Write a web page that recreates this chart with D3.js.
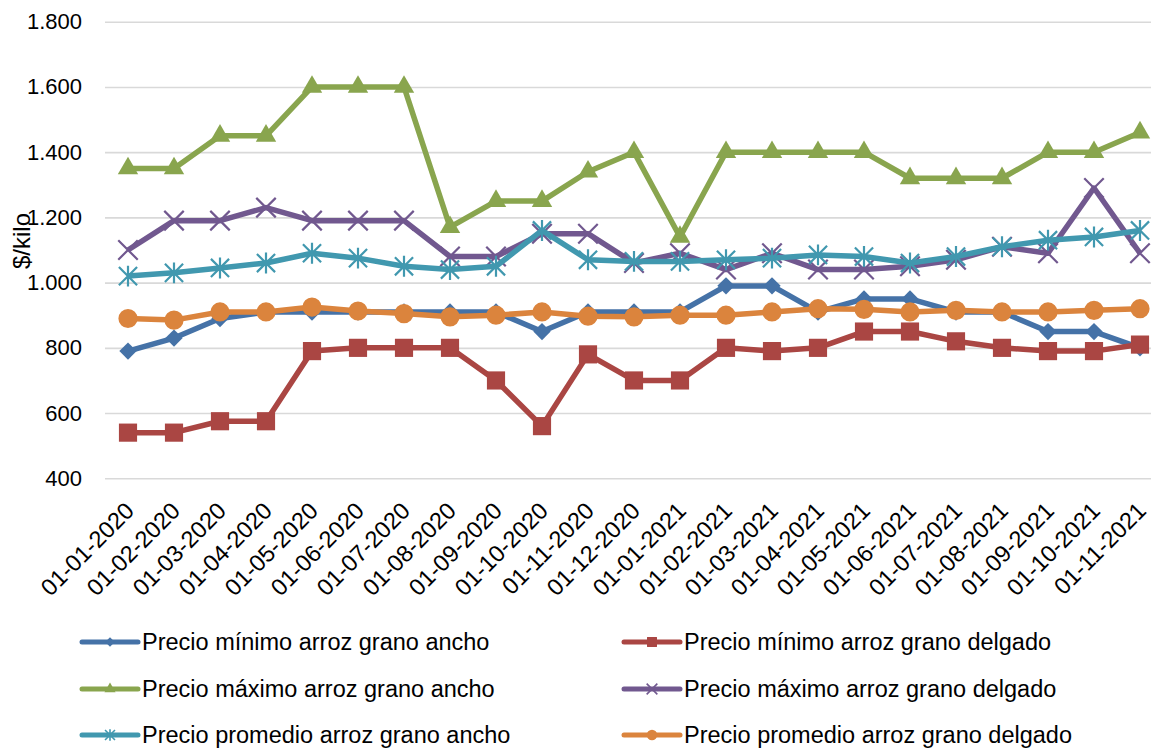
<!DOCTYPE html>
<html>
<head>
<meta charset="utf-8">
<script src="https://cdn.jsdelivr.net/npm/d3@7"></script>
<style>
  html, body { margin: 0; padding: 0; background: #fff; }
  svg { display: block; font-family: Arial, "Liberation Sans", sans-serif; }
</style>
</head>
<body>
<svg id="chart" width="1151" height="748"></svg>
<script>
// Monthly dates (first of each month)
const categories = [
  "01-01-2020", "01-02-2020", "01-03-2020", "01-04-2020", "01-05-2020", "01-06-2020",
  "01-07-2020", "01-08-2020", "01-09-2020", "01-10-2020", "01-11-2020", "01-12-2020",
  "01-01-2021", "01-02-2021", "01-03-2021", "01-04-2021", "01-05-2021", "01-06-2021",
  "01-07-2021", "01-08-2021", "01-09-2021", "01-10-2021", "01-11-2021"
];

// Prices in $/kilo
const minAncho    = [790, 830, 890, 910, 910, 910, 910, 910, 910, 850, 910, 910, 910, 990, 990, 910, 950, 950, 910, 910, 850, 850, 800];
const minDelgado  = [540, 540, 575, 575, 790, 800, 800, 800, 700, 560, 780, 700, 700, 800, 790, 800, 850, 850, 820, 800, 790, 790, 810];
const maxAncho    = [1350, 1350, 1450, 1450, 1600, 1600, 1600, 1170, 1250, 1250, 1340, 1400, 1140, 1400, 1400, 1400, 1400, 1320, 1320, 1320, 1400, 1400, 1460];
const maxDelgado  = [1100, 1190, 1190, 1230, 1190, 1190, 1190, 1080, 1080, 1150, 1150, 1060, 1090, 1040, 1090, 1040, 1040, 1050, 1070, 1110, 1090, 1290, 1090];
const promAncho   = [1020, 1030, 1045, 1060, 1090, 1075, 1050, 1040, 1050, 1160, 1070, 1065, 1065, 1070, 1075, 1085, 1080, 1060, 1080, 1110, 1130, 1140, 1160];
const promDelgado = [890, 885, 910, 910, 925, 913, 905, 895, 900, 910, 897, 895, 900, 900, 910, 920, 918, 910, 915, 910, 910, 915, 920];

const seriesNames = [
  "Precio mínimo arroz grano ancho",
  "Precio mínimo arroz grano delgado",
  "Precio máximo arroz grano ancho",
  "Precio máximo arroz grano delgado",
  "Precio promedio arroz grano ancho",
  "Precio promedio arroz grano delgado"
];
const yTicks = [400, 600, 800, 1000, 1200, 1400, 1600, 1800];

// Custom stroke symbols
const symbolCross = {
  draw(ctx, size) {
    const r = Math.sqrt(size) / 2;
    ctx.moveTo(-r, -r); ctx.lineTo(r, r);
    ctx.moveTo(-r, r); ctx.lineTo(r, -r);
  }
};
const symbolStar = {
  draw(ctx, size) {
    const r = Math.sqrt(size) / 2;
    ctx.moveTo(-r, -r); ctx.lineTo(r, r);
    ctx.moveTo(-r, r); ctx.lineTo(r, -r);
    ctx.moveTo(0, -r * 1.15); ctx.lineTo(0, r * 1.15);
  }
};

const series = [
  { name: seriesNames[0], values: minAncho,    color: "#4572A7", type: d3.symbolSquare,   size: 150, rotate: 45, fill: true },
  { name: seriesNames[1], values: minDelgado,  color: "#AA4643", type: d3.symbolSquare,   size: 330, rotate: 0,  fill: true },
  { name: seriesNames[2], values: maxAncho,    color: "#89A54E", type: d3.symbolTriangle, size: 180, rotate: 0,  fill: true },
  { name: seriesNames[3], values: maxDelgado,  color: "#71588F", type: symbolCross,       size: 380, rotate: 0,  fill: false },
  { name: seriesNames[4], values: promAncho,   color: "#4198AF", type: symbolStar,        size: 330, rotate: 0,  fill: false },
  { name: seriesNames[5], values: promDelgado, color: "#DB843D", type: d3.symbolCircle,   size: 290, rotate: 0,  fill: true }
];

const W = 1151;
const svg = d3.select("#chart");

const x = d3.scalePoint().domain(categories).range([105, 1163]).padding(0.5);
const y = d3.scaleLinear().domain([400, 1800]).range([478.3, 21.7]);

const locale = d3.formatLocale({ decimal: ",", thousands: ".", grouping: [3], currency: ["$", ""] });
const fmt = locale.format(",");

// Y axis with horizontal gridlines
const yAxis = svg.append("g")
  .attr("transform", "translate(105,0)")
  .call(d3.axisLeft(y).tickValues(yTicks).tickFormat(fmt).tickSize(-(W - 105)).tickPadding(23));
yAxis.select(".domain").remove();
yAxis.selectAll(".tick line").attr("stroke", "#d9d9d9").attr("stroke-width", 1.6);
yAxis.selectAll(".tick text")
  .attr("fill", "#000")
  .style("font-size", "22px");

// Y axis title
svg.append("text")
  .attr("transform", "translate(30,241) rotate(-90)")
  .attr("text-anchor", "middle")
  .style("font-size", "24px")
  .attr("fill", "#000")
  .text("$/kilo");

// X axis labels, rotated
const xAxis = svg.append("g")
  .attr("transform", `translate(0,${y(400)})`)
  .call(d3.axisBottom(x).tickSize(0).tickPadding(0));
xAxis.select(".domain").remove();
xAxis.selectAll(".tick text")
  .attr("fill", "#000")
  .style("font-size", "23.5px")
  .attr("text-anchor", "end")
  .attr("dy", null)
  .attr("y", 0)
  .attr("transform", "translate(7,34) rotate(-45)");

// Lines and markers
const line = d3.line().x((d, i) => x(categories[i])).y(d => y(d));

const plot = svg.append("g");
series.forEach(s => {
  const g = plot.append("g");
  g.append("path")
    .datum(s.values)
    .attr("fill", "none")
    .attr("stroke", s.color)
    .attr("stroke-width", 5.5)
    .attr("stroke-linejoin", "round")
    .attr("d", line);
  const sym = d3.symbol().type(s.type).size(s.size);
  g.selectAll("path.marker")
    .data(s.values)
    .join("path")
    .attr("class", "marker")
    .attr("transform", (d, i) => `translate(${x(categories[i])},${y(d)}) rotate(${s.rotate})`)
    .attr("d", sym)
    .attr("fill", s.fill ? s.color : "none")
    .attr("stroke", s.color)
    .attr("stroke-width", s.fill ? 0 : 2.2);
});

// Legend, two columns by three rows
const legendCols = [82, 624];
const legendRows = [642, 689, 735];
const legend = svg.append("g");
series.forEach((s, k) => {
  const lx = legendCols[k % 2];
  const ly = legendRows[Math.floor(k / 2)];
  const g = legend.append("g").attr("transform", `translate(${lx},${ly})`);
  g.append("line")
    .attr("x1", 0).attr("x2", 56).attr("y1", 0).attr("y2", 0)
    .attr("stroke", s.color).attr("stroke-width", 5).attr("stroke-linecap", "round");
  g.append("path")
    .attr("transform", `translate(28,0) rotate(${s.rotate})`)
    .attr("d", d3.symbol().type(s.type).size(s.size * 0.3))
    .attr("fill", s.fill ? s.color : "none")
    .attr("stroke", s.color)
    .attr("stroke-width", s.fill ? 0 : 1.6);
  g.append("text")
    .attr("x", 60)
    .attr("dy", "0.35em")
    .style("font-size", "23.5px")
    .attr("fill", "#000")
    .text(s.name);
});
</script>
</body>
</html>
